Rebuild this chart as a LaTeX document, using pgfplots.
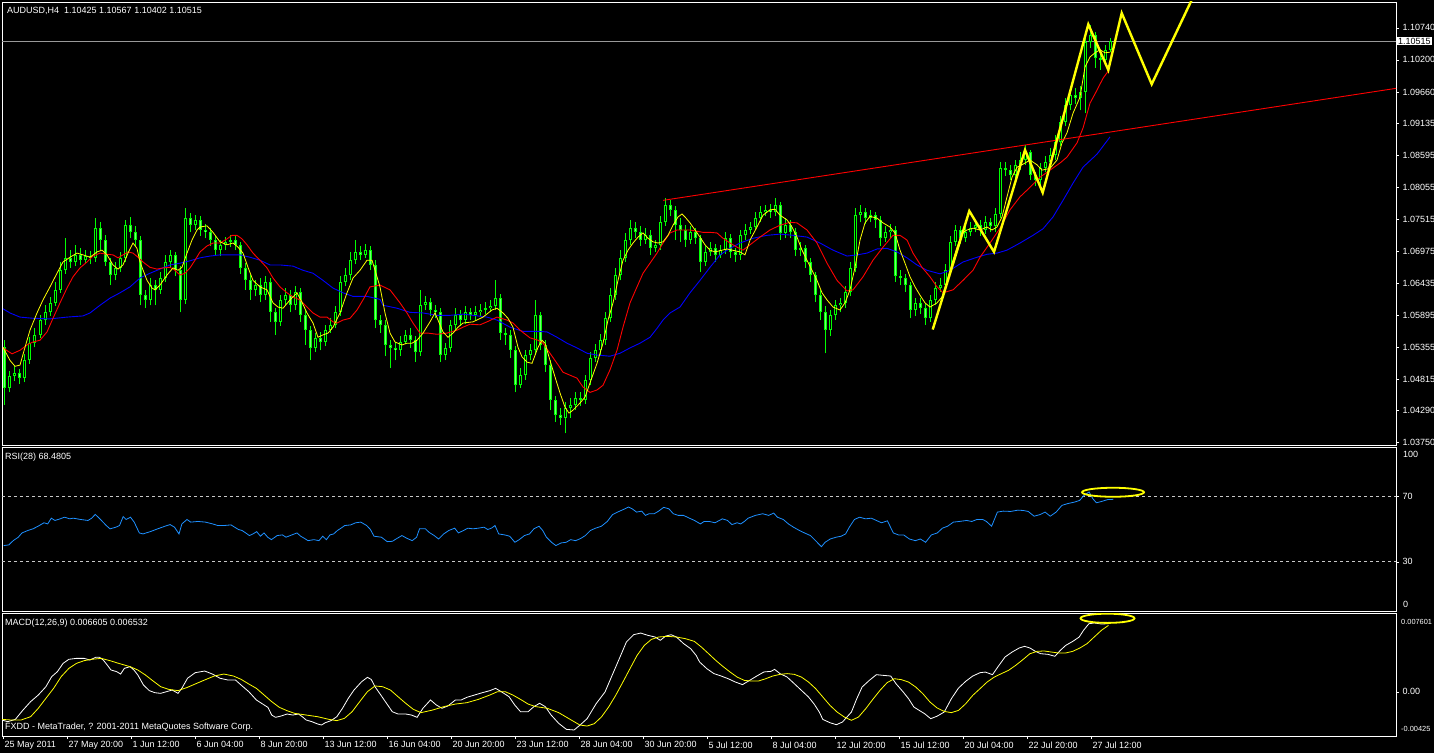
\documentclass[border=0pt]{standalone}
\usepackage{pgfplots}
\pgfplotsset{compat=1.18}
\usepackage{pgfplotstable}
\usepackage{fontspec}
\setmainfont{Liberation Sans}

\definecolor{mtgreen}{RGB}{0,255,0}
\definecolor{mtyellow}{RGB}{255,255,0}
\definecolor{mtred}{RGB}{255,0,0}
\definecolor{mtblue}{RGB}{0,0,255}
\definecolor{rsiblue}{RGB}{30,144,255}
\definecolor{levelgray}{RGB}{200,200,200}

% AUDUSD H4 candles: x (screen position), open, high, low, close
\pgfplotstableread{
x o h l c
5 1.0535 1.0547 1.0438 1.0466
10 1.0466 1.0495 1.0459 1.0486
15 1.0486 1.0503 1.0478 1.0492
20 1.0492 1.0498 1.0473 1.0483
25 1.0483 1.0524 1.0476 1.0513
30 1.0513 1.0552 1.0507 1.0542
35 1.0542 1.0567 1.0535 1.0556
40 1.0556 1.0589 1.0551 1.0581
45 1.0581 1.0606 1.0573 1.0594
50 1.0594 1.0620 1.0588 1.0610
55 1.0610 1.0645 1.0605 1.0632
60 1.0632 1.0679 1.0627 1.0665
65 1.0665 1.0719 1.0659 1.0686
70 1.0686 1.0699 1.0669 1.0679
75 1.0679 1.0708 1.0672 1.0691
80 1.0691 1.0702 1.0674 1.0682
85 1.0682 1.0699 1.0677 1.0689
90 1.0689 1.0697 1.0675 1.0686
95 1.0686 1.0753 1.0679 1.0736
100 1.0736 1.0746 1.0699 1.0716
105 1.0716 1.0724 1.0672 1.0679
110 1.0679 1.0686 1.0640 1.0657
115 1.0657 1.0679 1.0648 1.0669
120 1.0669 1.0696 1.0662 1.0686
125 1.0686 1.0750 1.0679 1.0741
130 1.0741 1.0755 1.0719 1.0729
135 1.0729 1.0740 1.0706 1.0716
140 1.0716 1.0723 1.0606 1.0623
145 1.0623 1.0632 1.0601 1.0615
150 1.0615 1.0652 1.0606 1.0640
155 1.0640 1.0648 1.0606 1.0632
160 1.0632 1.0662 1.0625 1.0652
165 1.0652 1.0691 1.0645 1.0679
170 1.0679 1.0699 1.0669 1.0691
175 1.0691 1.0696 1.0655 1.0665
180 1.0665 1.0672 1.0594 1.0615
185 1.0615 1.0770 1.0608 1.0753
190 1.0753 1.0762 1.0729 1.0741
195 1.0741 1.0758 1.0733 1.0750
200 1.0750 1.0756 1.0723 1.0733
205 1.0733 1.0743 1.0719 1.0729
210 1.0729 1.0736 1.0706 1.0716
215 1.0716 1.0723 1.0691 1.0699
220 1.0699 1.0716 1.0689 1.0708
225 1.0708 1.0721 1.0699 1.0713
230 1.0713 1.0724 1.0704 1.0716
235 1.0716 1.0723 1.0699 1.0708
240 1.0708 1.0713 1.0659 1.0669
245 1.0669 1.0677 1.0632 1.0648
250 1.0648 1.0657 1.0615 1.0632
255 1.0632 1.0648 1.0621 1.0640
260 1.0640 1.0652 1.0611 1.0623
265 1.0623 1.0655 1.0615 1.0645
270 1.0645 1.0652 1.0578 1.0594
275 1.0594 1.0601 1.0556 1.0578
280 1.0578 1.0623 1.0571 1.0615
285 1.0615 1.0635 1.0606 1.0623
290 1.0623 1.0632 1.0594 1.0606
295 1.0606 1.0638 1.0598 1.0628
300 1.0628 1.0635 1.0578 1.0589
305 1.0589 1.0598 1.0539 1.0564
310 1.0564 1.0571 1.0513 1.0534
315 1.0534 1.0559 1.0527 1.0551
320 1.0551 1.0561 1.0530 1.0544
325 1.0544 1.0573 1.0537 1.0564
330 1.0564 1.0584 1.0559 1.0573
335 1.0573 1.0605 1.0567 1.0594
340 1.0594 1.0655 1.0588 1.0645
345 1.0645 1.0669 1.0638 1.0657
350 1.0657 1.0696 1.0648 1.0682
355 1.0682 1.0716 1.0675 1.0696
360 1.0696 1.0706 1.0682 1.0691
365 1.0691 1.0709 1.0686 1.0699
370 1.0699 1.0706 1.0665 1.0674
375 1.0674 1.0682 1.0567 1.0581
380 1.0581 1.0589 1.0559 1.0573
385 1.0573 1.0581 1.0520 1.0539
390 1.0539 1.0547 1.0500 1.0534
395 1.0534 1.0544 1.0513 1.0530
400 1.0530 1.0554 1.0520 1.0544
405 1.0544 1.0564 1.0540 1.0556
410 1.0556 1.0567 1.0534 1.0547
415 1.0547 1.0554 1.0510 1.0527
420 1.0527 1.0632 1.0520 1.0606
425 1.0606 1.0621 1.0598 1.0611
430 1.0611 1.0618 1.0588 1.0598
435 1.0598 1.0606 1.0584 1.0594
440 1.0594 1.0601 1.0510 1.0522
445 1.0522 1.0542 1.0513 1.0534
450 1.0534 1.0581 1.0527 1.0573
455 1.0573 1.0601 1.0564 1.0589
460 1.0589 1.0598 1.0571 1.0581
465 1.0581 1.0605 1.0574 1.0594
470 1.0594 1.0601 1.0581 1.0589
475 1.0589 1.0605 1.0581 1.0594
480 1.0594 1.0608 1.0588 1.0598
485 1.0598 1.0611 1.0591 1.0601
490 1.0601 1.0615 1.0594 1.0605
495 1.0605 1.0648 1.0598 1.0618
500 1.0618 1.0625 1.0547 1.0559
505 1.0559 1.0567 1.0539 1.0556
510 1.0556 1.0564 1.0517 1.0530
515 1.0530 1.0537 1.0459 1.0471
520 1.0471 1.0500 1.0466 1.0488
525 1.0488 1.0530 1.0480 1.0522
530 1.0522 1.0540 1.0513 1.0530
535 1.0530 1.0615 1.0522 1.0589
540 1.0589 1.0594 1.0530 1.0539
545 1.0539 1.0547 1.0493 1.0505
550 1.0505 1.0513 1.0429 1.0446
555 1.0446 1.0453 1.0409 1.0421
560 1.0421 1.0432 1.0404 1.0416
565 1.0416 1.0443 1.0390 1.0432
570 1.0432 1.0449 1.0416 1.0438
575 1.0438 1.0459 1.0429 1.0449
580 1.0449 1.0459 1.0436 1.0446
585 1.0446 1.0488 1.0439 1.0480
590 1.0480 1.0527 1.0471 1.0517
595 1.0517 1.0540 1.0510 1.0530
600 1.0530 1.0557 1.0522 1.0547
605 1.0547 1.0594 1.0539 1.0584
610 1.0584 1.0635 1.0578 1.0623
615 1.0623 1.0669 1.0615 1.0657
620 1.0657 1.0699 1.0648 1.0686
625 1.0686 1.0728 1.0679 1.0716
630 1.0716 1.0750 1.0708 1.0736
635 1.0736 1.0746 1.0719 1.0729
640 1.0729 1.0740 1.0706 1.0716
645 1.0716 1.0736 1.0709 1.0724
650 1.0724 1.0733 1.0691 1.0702
655 1.0702 1.0716 1.0696 1.0708
660 1.0708 1.0756 1.0699 1.0746
665 1.0746 1.0787 1.0740 1.0775
670 1.0775 1.0783 1.0756 1.0767
675 1.0767 1.0773 1.0716 1.0741
680 1.0741 1.0753 1.0713 1.0733
685 1.0733 1.0741 1.0704 1.0716
690 1.0716 1.0740 1.0709 1.0729
695 1.0729 1.0736 1.0709 1.0719
700 1.0719 1.0724 1.0662 1.0679
705 1.0679 1.0706 1.0672 1.0696
710 1.0696 1.0713 1.0689 1.0702
715 1.0702 1.0709 1.0679 1.0691
720 1.0691 1.0708 1.0686 1.0699
725 1.0699 1.0729 1.0692 1.0719
730 1.0719 1.0726 1.0686 1.0696
735 1.0696 1.0702 1.0679 1.0691
740 1.0691 1.0733 1.0682 1.0724
745 1.0724 1.0743 1.0716 1.0733
750 1.0733 1.0746 1.0726 1.0738
755 1.0738 1.0763 1.0733 1.0753
760 1.0753 1.0773 1.0746 1.0763
765 1.0763 1.0775 1.0756 1.0767
770 1.0767 1.0777 1.0753 1.0763
775 1.0763 1.0787 1.0756 1.0775
780 1.0775 1.0780 1.0716 1.0728
785 1.0728 1.0753 1.0719 1.0741
790 1.0741 1.0750 1.0719 1.0729
795 1.0729 1.0736 1.0689 1.0699
800 1.0699 1.0713 1.0689 1.0702
805 1.0702 1.0708 1.0669 1.0679
810 1.0679 1.0686 1.0645 1.0657
815 1.0657 1.0662 1.0611 1.0623
820 1.0623 1.0632 1.0581 1.0594
825 1.0594 1.0605 1.0525 1.0564
830 1.0564 1.0598 1.0554 1.0589
835 1.0589 1.0615 1.0581 1.0606
840 1.0606 1.0618 1.0594 1.0610
845 1.0610 1.0638 1.0601 1.0628
850 1.0628 1.0679 1.0621 1.0669
855 1.0669 1.0770 1.0662 1.0758
860 1.0758 1.0775 1.0746 1.0763
865 1.0763 1.0770 1.0743 1.0753
870 1.0753 1.0767 1.0746 1.0758
875 1.0758 1.0763 1.0736 1.0750
880 1.0750 1.0756 1.0706 1.0719
885 1.0719 1.0740 1.0713 1.0729
890 1.0729 1.0743 1.0719 1.0733
895 1.0733 1.0740 1.0645 1.0655
900 1.0655 1.0665 1.0640 1.0652
905 1.0652 1.0659 1.0628 1.0640
910 1.0640 1.0645 1.0584 1.0598
915 1.0598 1.0618 1.0588 1.0610
920 1.0610 1.0618 1.0591 1.0601
925 1.0601 1.0608 1.0573 1.0584
930 1.0584 1.0623 1.0578 1.0615
935 1.0615 1.0645 1.0606 1.0635
940 1.0635 1.0652 1.0628 1.0640
945 1.0640 1.0675 1.0632 1.0665
950 1.0665 1.0723 1.0659 1.0713
955 1.0713 1.0741 1.0706 1.0733
960 1.0733 1.0740 1.0709 1.0719
965 1.0719 1.0740 1.0713 1.0729
970 1.0729 1.0746 1.0723 1.0736
975 1.0736 1.0750 1.0729 1.0741
980 1.0741 1.0750 1.0723 1.0733
985 1.0733 1.0756 1.0726 1.0746
990 1.0746 1.0753 1.0729 1.0740
995 1.0740 1.0770 1.0729 1.0760
1000 1.0760 1.0848 1.0753 1.0837
1005 1.0837 1.0848 1.0824 1.0834
1010 1.0834 1.0843 1.0817 1.0826
1015 1.0826 1.0851 1.0817 1.0843
1020 1.0843 1.0864 1.0834 1.0851
1025 1.0851 1.0876 1.0843 1.0864
1030 1.0864 1.0868 1.0817 1.0826
1035 1.0826 1.0831 1.0807 1.0817
1040 1.0817 1.0846 1.0800 1.0837
1045 1.0837 1.0858 1.0831 1.0848
1050 1.0848 1.0871 1.0837 1.0859
1055 1.0859 1.0893 1.0851 1.0881
1060 1.0881 1.0925 1.0875 1.0915
1065 1.0915 1.0956 1.0908 1.0944
1070 1.0944 1.0973 1.0935 1.0961
1075 1.0961 1.0973 1.0945 1.0956
1080 1.0956 1.0976 1.0935 1.0966
1085 1.0966 1.1060 1.0930 1.1050
1090 1.1050 1.1079 1.1040 1.1062
1095 1.1062 1.1067 1.1006 1.1023
1100 1.1023 1.1033 1.1003 1.1020
1105 1.1020 1.1045 1.1013 1.1037
1110 1.1037 1.1057 1.1033 1.1052
}\candles

\pgfplotsset{
  mtpanel/.style={
    scale only axis, width=1394pt, anchor=south west,
    xmin=2, xmax=1396, xtick=\empty,
    scaled y ticks=false, scaled x ticks=false,
    axis line style={white, line width=0.8pt},
    tick style={white, line width=0.6pt},
    tick align=outside, major tick length=3pt,
    ytick pos=right, yticklabel pos=right,
    ticklabel style={font=\fontsize{9}{10}\selectfont, text=white},
  },
}

\begin{document}
\begin{tikzpicture}
\fill[black] (0,0) rectangle (1434pt,753pt);

% ---- price panel
\begin{axis}[mtpanel, at={(2pt,308pt)}, height=443pt,
    ymin=1.03702, ymax=1.11177,
    ytick={1.0375,1.0429,1.04815,1.05355,1.05895,1.06435,1.06975,1.07515,1.08055,1.08595,1.09135,1.0966,1.102,1.1074},
    yticklabels={1.03750,1.04290,1.04815,1.05355,1.05895,1.06435,1.06975,1.07515,1.08055,1.08595,1.09135,1.09660,1.10200,1.10740}]
  \addplot[gray!80, line width=0.8pt] coordinates {(2,1.10515) (1396,1.10515)};
  % wicks
  \addplot[mtgreen, line width=1pt, -, quiver={u=0, v=\thisrow{h}-\thisrow{l}}] table[x=x, y=l] {\candles};
  % bodies
  \addplot[mtgreen, line width=3pt, -, quiver={u=0, v=\thisrow{c}-\thisrow{o}}] table[x=x, y=o] {\candles};
  \addplot[black, line width=1pt, -, quiver={u=0, v={max(\thisrow{c}-\thisrow{o}-0.0003,0)}}] table[x=x, y expr=\thisrow{o}+0.00015] {\candles};
  \addplot[white!45!mtgreen, line width=1pt, -, quiver={u=0, v={min(\thisrow{c}-\thisrow{o}+0.0003,0)}}] table[x=x, y expr=\thisrow{o}-0.00015] {\candles};
  % slow MA
  \addplot[mtblue, line width=0.9pt] coordinates {(3,1.0600) (10,1.0593) (20,1.0586) (33,1.0584) (50,1.0583) (67,1.0586) (83,1.0588) (90,1.0593) (100,1.0606) (110,1.0618) (120,1.0627) (130,1.0637) (140,1.0652) (150,1.0660) (160,1.0667) (170,1.0674) (180,1.0677) (190,1.0681) (200,1.0686) (210,1.0689) (220,1.0691) (240,1.0691) (250,1.0687) (260,1.0682) (270,1.0674) (280,1.0674) (293,1.0672) (303,1.0665) (313,1.0660) (323,1.0648) (333,1.0635) (343,1.0627) (353,1.0621) (367,1.0621) (380,1.0616) (383,1.0606) (397,1.0601) (410,1.0594) (423,1.0593) (437,1.0589) (450,1.0589) (463,1.0591) (473,1.0589) (487,1.0586) (497,1.0581) (510,1.0569) (523,1.0562) (537,1.0562) (547,1.0561) (557,1.0552) (567,1.0542) (577,1.0534) (587,1.0525) (597,1.0522) (610,1.0520) (620,1.0525) (630,1.0534) (640,1.0542) (650,1.0552) (657,1.0567) (663,1.0581) (670,1.0593) (680,1.0603) (690,1.0627) (700,1.0648) (710,1.0670) (720,1.0691) (730,1.0702) (740,1.0711) (753,1.0719) (767,1.0724) (780,1.0726) (793,1.0724) (807,1.0721) (820,1.0711) (833,1.0699) (847,1.0689) (857,1.0691) (867,1.0694) (877,1.0701) (887,1.0702) (897,1.0696) (907,1.0686) (917,1.0674) (927,1.0665) (940,1.0659) (950,1.0665) (963,1.0679) (977,1.0687) (987,1.0692) (997,1.0694) (1007,1.0699) (1020,1.0711) (1033,1.0724) (1043,1.0735) (1053,1.0755) (1063,1.0783) (1073,1.0812) (1083,1.0839) (1097,1.0861) (1110,1.0890)};
  % medium MA
  \addplot[mtred, line width=0.9pt] coordinates {(3,1.0534) (12,1.0524) (20,1.0530) (27,1.0539) (33,1.0544) (40,1.0547) (47,1.0561) (53,1.0584) (60,1.0610) (67,1.0635) (73,1.0654) (80,1.0669) (87,1.0679) (93,1.0689) (100,1.0694) (107,1.0692) (113,1.0691) (118,1.0686) (123,1.0691) (128,1.0696) (133,1.0694) (138,1.0687) (143,1.0679) (150,1.0670) (157,1.0667) (163,1.0669) (170,1.0670) (175,1.0665) (180,1.0657) (185,1.0660) (190,1.0669) (195,1.0682) (200,1.0696) (207,1.0706) (213,1.0711) (220,1.0711) (227,1.0718) (232,1.0724) (237,1.0724) (242,1.0718) (247,1.0708) (253,1.0694) (260,1.0682) (267,1.0669) (273,1.0652) (280,1.0637) (287,1.0627) (293,1.0620) (300,1.0615) (307,1.0603) (313,1.0593) (320,1.0586) (327,1.0586) (333,1.0578) (337,1.0576) (343,1.0581) (350,1.0584) (357,1.0598) (363,1.0615) (370,1.0637) (380,1.0640) (390,1.0632) (400,1.0610) (407,1.0593) (413,1.0576) (420,1.0559) (428,1.0559) (437,1.0557) (447,1.0559) (457,1.0564) (463,1.0569) (470,1.0574) (480,1.0573) (487,1.0578) (497,1.0586) (507,1.0581) (513,1.0576) (520,1.0564) (530,1.0551) (538,1.0547) (543,1.0542) (550,1.0525) (557,1.0508) (563,1.0493) (570,1.0488) (577,1.0483) (583,1.0468) (590,1.0459) (597,1.0463) (603,1.0471) (610,1.0497) (617,1.0530) (623,1.0569) (630,1.0610) (637,1.0637) (643,1.0660) (650,1.0677) (657,1.0694) (663,1.0711) (670,1.0728) (677,1.0733) (690,1.0733) (703,1.0729) (710,1.0729) (717,1.0728) (723,1.0719) (730,1.0711) (737,1.0704) (743,1.0699) (750,1.0708) (760,1.0721) (770,1.0733) (780,1.0741) (790,1.0746) (797,1.0745) (807,1.0733) (817,1.0711) (827,1.0677) (837,1.0648) (847,1.0630) (853,1.0632) (863,1.0654) (873,1.0682) (883,1.0704) (893,1.0724) (900,1.0724) (907,1.0716) (913,1.0694) (922,1.0670) (930,1.0654) (937,1.0637) (943,1.0627) (953,1.0632) (963,1.0648) (973,1.0665) (980,1.0687) (990,1.0711) (1000,1.0736) (1010,1.0767) (1020,1.0789) (1030,1.0805) (1040,1.0822) (1050,1.0834) (1060,1.0846) (1067,1.0856) (1077,1.0880) (1083,1.0905) (1090,1.0947) (1097,1.0969) (1103,1.0989) (1109,1.1003)};
  % fast MA
  \addplot[mtyellow, line width=0.8pt] coordinates {(3,1.0535) (10,1.0513) (15,1.0503) (20,1.0505) (25,1.0535) (30,1.0564) (37,1.0593) (43,1.0615) (50,1.0637) (57,1.0660) (63,1.0679) (70,1.0687) (77,1.0694) (83,1.0691) (90,1.0687) (97,1.0696) (102,1.0699) (107,1.0691) (113,1.0674) (118,1.0667) (123,1.0674) (128,1.0694) (133,1.0711) (137,1.0702) (140,1.0679) (147,1.0648) (152,1.0635) (155,1.0632) (160,1.0640) (167,1.0657) (173,1.0669) (178,1.0665) (182,1.0670) (187,1.0694) (192,1.0716) (197,1.0733) (200,1.0738) (207,1.0740) (213,1.0729) (220,1.0713) (227,1.0708) (233,1.0711) (238,1.0704) (243,1.0694) (248,1.0670) (253,1.0648) (260,1.0637) (267,1.0632) (273,1.0610) (278,1.0603) (283,1.0601) (290,1.0615) (297,1.0627) (302,1.0611) (307,1.0593) (313,1.0576) (318,1.0552) (323,1.0556) (328,1.0559) (333,1.0569) (340,1.0593) (347,1.0627) (353,1.0652) (360,1.0665) (367,1.0682) (372,1.0682) (377,1.0654) (380,1.0637) (385,1.0593) (390,1.0559) (395,1.0544) (402,1.0539) (407,1.0542) (412,1.0542) (417,1.0547) (423,1.0559) (430,1.0578) (435,1.0593) (438,1.0581) (443,1.0561) (448,1.0552) (453,1.0559) (458,1.0569) (463,1.0576) (473,1.0578) (483,1.0586) (492,1.0598) (497,1.0601) (503,1.0593) (508,1.0584) (513,1.0569) (518,1.0535) (522,1.0519) (527,1.0510) (532,1.0508) (538,1.0535) (542,1.0547) (545,1.0542) (550,1.0513) (555,1.0485) (560,1.0458) (565,1.0434) (569,1.0424) (573,1.0429) (580,1.0441) (585,1.0451) (590,1.0475) (597,1.0508) (603,1.0542) (608,1.0581) (613,1.0610) (618,1.0648) (623,1.0682) (628,1.0699) (633,1.0711) (638,1.0721) (643,1.0728) (648,1.0719) (653,1.0713) (658,1.0711) (663,1.0713) (668,1.0724) (673,1.0741) (678,1.0755) (682,1.0760) (685,1.0755) (690,1.0745) (695,1.0733) (700,1.0721) (705,1.0708) (710,1.0699) (715,1.0696) (727,1.0701) (740,1.0696) (745,1.0691) (750,1.0716) (757,1.0738) (763,1.0758) (770,1.0767) (775,1.0768) (780,1.0758) (787,1.0750) (792,1.0738) (797,1.0721) (802,1.0699) (807,1.0682) (812,1.0665) (817,1.0648) (822,1.0627) (827,1.0615) (833,1.0603) (840,1.0598) (845,1.0610) (850,1.0632) (855,1.0670) (860,1.0716) (865,1.0745) (870,1.0756) (877,1.0753) (883,1.0745) (890,1.0738) (895,1.0728) (900,1.0699) (905,1.0677) (910,1.0654) (915,1.0637) (920,1.0623) (925,1.0610) (930,1.0603) (937,1.0610) (942,1.0620) (947,1.0648) (952,1.0677) (957,1.0704) (962,1.0728) (967,1.0733) (973,1.0736) (980,1.0733) (987,1.0738) (992,1.0733) (997,1.0738) (1002,1.0755) (1007,1.0789) (1012,1.0822) (1017,1.0839) (1022,1.0843) (1030,1.0851) (1037,1.0843) (1042,1.0834) (1050,1.0837) (1057,1.0851) (1062,1.0880) (1067,1.0897) (1073,1.0930) (1080,1.0957) (1085,1.1008) (1090,1.1025) (1095,1.1032) (1100,1.1037) (1105,1.1032) (1110,1.1033)};
  % trend line
  \addplot[mtred, line width=0.9pt] coordinates {(663,1.0783) (1396,1.0972)};
  % zigzag projection
  \addplot[mtyellow, line width=2.4pt] coordinates {(932.7,1.0565) (969.3,1.0765) (994,1.0696) (1025,1.0868) (1042.7,1.0796) (1088.3,1.1080) (1108.3,1.1003) (1121.7,1.1099) (1151.7,1.0979) (1201.2,1.1155)};
\end{axis}

% ---- RSI panel
\begin{axis}[mtpanel, at={(2pt,142pt)}, height=164pt, ymin=0, ymax=100,
    ytick={30,70}, yticklabels={30,70}]
  \addplot[levelgray, line width=0.7pt, dash pattern=on 3pt off 3pt] coordinates {(2,70) (1396,70)};
  \addplot[levelgray, line width=0.7pt, dash pattern=on 3pt off 3pt] coordinates {(2,30) (1396,30)};
  \addplot[rsiblue, line width=0.8pt] coordinates {(3.7,39.9) (8.8,40.3) (13.2,42.9) (18.3,45.0) (22,47.6) (27.9,49.1) (33,50.1) (38.1,51.7) (44,53.8) (47.7,53.1) (51.3,56.6) (55,55.2) (60.1,56.2) (64.5,57.2) (69.7,56.2) (73.3,56.6) (80.7,55.8) (88,55.2) (91.7,56.6) (95.3,58.9) (100.5,55.8) (106.3,52.1) (110,50.1) (115.9,51.1) (119.5,52.1) (123.2,57.6) (126.1,55.8) (130.5,57.2) (134.2,54.2) (139.3,47.6) (143,47.0) (150.3,48.4) (157.7,50.1) (165,51.7) (170.1,52.7) (174.5,51.1) (179,47.0) (181.9,53.1) (187,55.8) (190.7,54.2) (198,54.6) (205.4,54.2) (212.7,53.1) (217.8,52.1) (223.7,52.1) (231,52.5) (234.7,51.1) (238.4,49.7) (242,49.1) (245.7,47.6) (249.4,46.0) (253,47.0) (256.7,48.4) (260.4,45.6) (264,47.6) (267.7,45.0) (271.4,43.5) (277.2,46.0) (282.4,46.4) (286,45.0) (291.9,46.4) (297,47.6) (300.7,45.6) (304.4,44.3) (308,42.9) (313.9,43.5) (319,42.9) (322.7,45.6) (326.4,43.5) (330,46.4) (333.7,47.0) (337.4,49.1) (341,50.5) (344.7,52.1) (350.6,52.5) (355.7,53.8) (360.8,54.2) (366.7,52.1) (370.4,49.7) (374,45.6) (381.4,45.0) (387.2,42.3) (392.4,42.5) (396,43.9) (401.9,46.0) (407,44.3) (412.2,42.9) (416.6,45.0) (419.5,50.1) (425.4,50.1) (429,48.0) (434.2,46.0) (438.6,43.9) (443.7,47.0) (448.8,49.1) (454.7,50.5) (458.4,47.6) (463.5,49.1) (467.9,50.5) (473,50.1) (478.2,50.5) (484,51.1) (487.7,49.7) (491.4,50.5) (495,52.1) (498.7,47.0) (504.6,46.4) (509.7,45.6) (514.9,41.9) (519.2,43.5) (524.4,46.0) (529.5,47.0) (533.9,50.1) (539,51.7) (542.7,49.1) (546.4,45.0) (551.5,41.9) (555.9,39.9) (561,41.5) (566.2,41.9) (570.6,43.5) (575.7,42.9) (580.9,44.3) (585.3,46.0) (590.4,49.1) (595.5,50.5) (601.4,51.7) (607.3,54.6) (612.4,58.7) (617.5,60.3) (623.4,61.9) (628.5,63.4) (632.2,62.3) (636.6,60.3) (641.7,60.9) (645.4,58.3) (649,59.3) (654.2,59.3) (658.6,60.9) (663.7,63.2) (668.9,62.3) (673.3,59.3) (678.4,58.3) (683.5,58.3) (689.4,56.6) (694.5,55.2) (700.4,53.1) (704.1,54.6) (709.2,54.6) (715,53.8) (722.4,56.2) (727.5,55.2) (731.9,52.7) (737.1,53.8) (740.7,53.1) (744.4,54.6) (748.1,56.6) (755.4,58.3) (762.7,59.3) (768.6,58.3) (773.7,59.7) (777.4,57.2) (783.3,55.8) (788.4,53.1) (793.5,51.1) (799.4,49.1) (804.5,47.6) (810.4,46.0) (815.5,42.9) (821.4,39.2) (825.1,41.9) (830.2,43.9) (836.1,45.0) (841.2,45.6) (845.6,47.0) (849.3,51.1) (854.4,55.8) (859.6,57.2) (865.4,56.2) (871.3,56.6) (876.4,55.2) (881.5,53.8) (887.4,55.0) (893.3,47.6) (898.4,46.4) (903.6,46.4) (909.4,43.9) (915.3,42.9) (920.4,43.9) (925.6,41.9) (931.4,46.4) (937.3,47.6) (942.4,50.5) (947.6,51.7) (953.4,54.2) (959.3,54.6) (966.6,55.2) (971.8,54.6) (976.9,55.8) (982.8,55.8) (986.4,54.6) (991.6,51.7) (997.4,60.3) (1003.3,60.9) (1010.6,60.7) (1017.9,61.5) (1023.1,61.3) (1028.2,60.7) (1034.1,57.8) (1040,58.8) (1045.1,60.3) (1050.2,57.8) (1056.1,60.3) (1061.9,64.4) (1067.1,65.4) (1074.4,66.4) (1079.6,67.4) (1084,70.5) (1089.1,72.6) (1092.8,68.5) (1096.4,66.0) (1101.6,66.8) (1107.4,67.9) (1113.3,68.1)};
  \draw[mtyellow, line width=1.8pt] (axis cs:1113,72.4) ellipse [x radius=31pt, y radius=4.5pt];
\end{axis}

% ---- MACD panel
\begin{axis}[mtpanel, at={(2pt,17pt)}, height=123pt, ymin=-0.00425, ymax=0.007601,
    ytick={0}, yticklabels={0.00},
    xtick={3,67,131,195,259,323,387,451,515,579,643,707,771,835,899,963,1027,1091},
    xticklabels={25 May 2011,27 May 20:00,1 Jun 12:00,6 Jun 04:00,8 Jun 20:00,13 Jun 12:00,16 Jun 04:00,20 Jun 20:00,23 Jun 12:00,28 Jun 04:00,30 Jun 20:00,5 Jul 12:00,8 Jul 04:00,12 Jul 20:00,15 Jul 12:00,20 Jul 04:00,22 Jul 20:00,27 Jul 12:00},
    xtick pos=bottom, xticklabel style={anchor=north west, xshift=-2pt, yshift=1pt}]
  \addplot[white, line width=0.8pt] coordinates {(1.9,-2.71e-3) (7.7,-2.87e-3) (15.3,-2.65e-3) (23.0,-1.75e-3) (30.6,-0.94e-3) (38.3,-0.30e-3) (45.9,0.50e-3) (51.7,1.47e-3) (57.4,1.95e-3) (63.1,2.75e-3) (68.9,3.14e-3) (76.5,3.23e-3) (84.2,3.23e-3) (89.9,3.07e-3) (95.7,3.33e-3) (99.5,3.33e-3) (103.3,3.07e-3) (107.2,2.59e-3) (111.0,2.11e-3) (116.7,1.95e-3) (120.6,1.72e-3) (124.4,2.27e-3) (130.1,2.43e-3) (133.9,2.11e-3) (137.8,1.63e-3) (143.5,0.66e-3) (149.3,0.12e-3) (155.0,-0.08e-3) (160.7,-0.14e-3) (166.5,0.02e-3) (172.2,0.18e-3) (178.0,-0.14e-3) (181.8,0.34e-3) (187.5,1.31e-3) (195.2,1.85e-3) (204.7,2.01e-3) (212.4,1.72e-3) (220.1,1.31e-3) (227.7,1.15e-3) (235.4,1.15e-3) (241.1,0.66e-3) (248.8,0.02e-3) (256.4,-0.78e-3) (264.1,-1.26e-3) (267.9,-1.49e-3) (271.7,-2.23e-3) (275.5,-2.45e-3) (281.3,-2.32e-3) (287.0,-2.13e-3) (292.8,-2.23e-3) (298.5,-2.13e-3) (302.3,-2.39e-3) (306.2,-2.71e-3) (311.9,-2.87e-3) (317.6,-3.09e-3) (321.5,-3.19e-3) (325.3,-2.97e-3) (331.0,-2.77e-3) (336.8,-2.39e-3) (342.5,-1.58e-3) (348.3,-0.62e-3) (354.0,0.18e-3) (361.6,0.98e-3) (367.4,1.40e-3) (371.2,1.21e-3) (375.0,0.50e-3) (380.8,-0.30e-3) (386.5,-1.10e-3) (392.3,-1.91e-3) (398.0,-2.13e-3) (405.7,-2.13e-3) (411.4,-2.23e-3) (417.1,-2.45e-3) (422.9,-1.58e-3) (430.5,-0.78e-3) (436.3,-1.26e-3) (442.0,-1.58e-3) (447.8,-1.36e-3) (455.4,-0.78e-3) (461.2,-0.78e-3) (466.9,-0.52e-3) (474.6,-0.30e-3) (482.2,-0.08e-3) (489.9,0.12e-3) (495.6,0.34e-3) (501.3,0.02e-3) (509.0,-0.46e-3) (514.7,-1.26e-3) (520.5,-1.91e-3) (528.1,-1.91e-3) (533.9,-1.42e-3) (539.6,-1.10e-3) (545.3,-1.42e-3) (551.1,-2.23e-3) (558.7,-3.03e-3) (566.4,-3.61e-3) (574.1,-3.67e-3) (580,-3.2e-3) (587.1,-2.58e-3) (596.1,-1.14e-3) (605.0,-0.01e-3) (612.1,1.59e-3) (619.3,3.20e-3) (626.4,4.81e-3) (633.6,5.51e-3) (640.7,5.67e-3) (647.8,5.45e-3) (655.0,5.29e-3) (660.3,4.97e-3) (665.7,5.38e-3) (671.1,5.51e-3) (676.4,5.29e-3) (683.6,4.65e-3) (690.7,4.16e-3) (696.1,3.52e-3) (699.6,2.88e-3) (706.8,2.24e-3) (713.9,1.76e-3) (721.1,1.53e-3) (728.2,1.27e-3) (735.3,0.95e-3) (742.5,0.70e-3) (749.6,1.11e-3) (756.8,1.53e-3) (763.9,1.92e-3) (771.0,1.98e-3) (774.6,2.17e-3) (780.0,1.76e-3) (787.1,1.43e-3) (794.3,0.79e-3) (801.4,0.15e-3) (808.5,-0.49e-3) (813.9,-1.14e-3) (819.3,-1.94e-3) (822.8,-2.65e-3) (830.0,-2.97e-3) (836.4,-3.16e-3) (842.5,-2.90e-3) (851.4,-1.94e-3) (856.8,-0.65e-3) (862.1,0.47e-3) (869.3,1.11e-3) (876.4,1.66e-3) (883.5,1.59e-3) (890.7,1.53e-3) (896.0,0.79e-3) (903.2,-0.01e-3) (908.5,-0.65e-3) (913.9,-1.46e-3) (919.2,-1.78e-3) (924.6,-2.10e-3) (930.7,-2.58e-3) (937.1,-2.34e-3) (944.2,-1.94e-3) (951.4,-0.65e-3) (958.5,0.37e-3) (965.7,1.02e-3) (972.8,1.53e-3) (980.0,1.85e-3) (985.3,1.91e-3) (992.5,1.66e-3) (997.8,2.40e-3) (1005.0,3.36e-3) (1012.1,3.84e-3) (1019.2,4.23e-3) (1024.6,4.39e-3) (1029.9,4.23e-3) (1035.3,3.91e-3) (1040.7,3.68e-3) (1047.8,3.62e-3) (1054.9,3.43e-3) (1060.3,4.00e-3) (1065.7,4.48e-3) (1072.8,4.87e-3) (1079.2,5.29e-3) (1083.5,5.93e-3) (1088.9,6.57e-3) (1094.2,6.64e-3) (1101.4,6.54e-3) (1108.5,6.57e-3)};
  \addplot[mtyellow, line width=0.8pt] coordinates {(1.9,-2.65e-3) (11.5,-2.71e-3) (21.0,-2.71e-3) (30.6,-2.39e-3) (38.3,-1.58e-3) (45.9,-0.62e-3) (53.6,0.34e-3) (61.2,1.47e-3) (68.9,2.27e-3) (76.5,2.75e-3) (84.2,3.01e-3) (91.8,3.14e-3) (101.4,3.23e-3) (111.0,2.98e-3) (118.6,2.75e-3) (130.1,2.43e-3) (137.8,2.11e-3) (145.4,1.63e-3) (153.1,1.05e-3) (160.7,0.50e-3) (168.4,0.25e-3) (178.0,0.12e-3) (187.5,0.44e-3) (195.2,0.76e-3) (204.7,1.15e-3) (214.3,1.53e-3) (223.9,1.72e-3) (233.4,1.53e-3) (241.1,1.21e-3) (248.8,0.76e-3) (256.4,0.34e-3) (264.1,-0.30e-3) (271.7,-0.94e-3) (279.4,-1.49e-3) (287.0,-1.81e-3) (294.7,-2.07e-3) (306.2,-2.23e-3) (317.6,-2.39e-3) (329.1,-2.65e-3) (336.8,-2.77e-3) (344.4,-2.55e-3) (352.1,-1.91e-3) (359.7,-0.94e-3) (367.4,0.02e-3) (375.0,0.57e-3) (382.7,0.50e-3) (390.4,0.18e-3) (398.0,-0.46e-3) (405.7,-1.10e-3) (413.3,-1.68e-3) (421.0,-2.00e-3) (432.5,-1.75e-3) (443.9,-1.42e-3) (455.4,-1.17e-3) (466.9,-1.04e-3) (478.4,-0.72e-3) (489.9,-0.30e-3) (497.5,0.02e-3) (505.2,0.02e-3) (512.8,-0.30e-3) (520.5,-0.72e-3) (528.1,-1.17e-3) (535.8,-1.42e-3) (547.3,-1.58e-3) (558.7,-2.00e-3) (570.2,-2.65e-3) (579.8,-3.19e-3) (587.1,-3.29e-3) (594.3,-3.06e-3) (601.4,-2.42e-3) (608.6,-1.46e-3) (615.7,-0.33e-3) (622.9,0.95e-3) (630.0,2.24e-3) (637.1,3.52e-3) (644.3,4.48e-3) (651.4,5.06e-3) (658.6,5.29e-3) (667.5,5.35e-3) (676.4,5.29e-3) (685.3,5.13e-3) (694.3,4.87e-3) (701.4,4.32e-3) (708.6,3.68e-3) (715.7,3.04e-3) (722.8,2.46e-3) (730.0,1.92e-3) (737.1,1.43e-3) (744.3,1.11e-3) (751.4,1.05e-3) (758.6,1.05e-3) (765.7,1.27e-3) (772.8,1.53e-3) (780.0,1.69e-3) (787.1,1.76e-3) (794.3,1.69e-3) (801.4,1.43e-3) (808.5,0.95e-3) (815.7,0.31e-3) (822.8,-0.49e-3) (830.0,-1.30e-3) (837.1,-1.94e-3) (844.3,-2.42e-3) (851.4,-2.74e-3) (858.5,-2.42e-3) (865.7,-1.62e-3) (872.8,-0.72e-3) (880.0,0.15e-3) (887.1,0.89e-3) (894.3,1.27e-3) (901.4,1.18e-3) (908.5,0.95e-3) (915.7,0.47e-3) (922.8,-0.17e-3) (930.0,-0.98e-3) (937.1,-1.55e-3) (944.2,-1.88e-3) (951.4,-2.00e-3) (958.5,-1.78e-3) (965.7,-1.14e-3) (972.8,-0.33e-3) (980.0,0.31e-3) (987.1,0.95e-3) (994.3,1.43e-3) (1001.4,1.76e-3) (1008.6,2.08e-3) (1015.7,2.56e-3) (1022.8,3.10e-3) (1029.9,3.68e-3) (1037.1,3.91e-3) (1044.2,3.94e-3) (1051.4,3.84e-3) (1058.5,3.75e-3) (1065.7,3.75e-3) (1072.8,3.91e-3) (1079.9,4.23e-3) (1087.1,4.65e-3) (1094.2,5.29e-3) (1101.4,5.93e-3) (1108.5,6.41e-3)};
  \draw[mtyellow, line width=1.8pt] (axis cs:1107.5,0.00709) ellipse [x radius=27pt, y radius=4.6pt];
\end{axis}

% ---- texts
\begin{scope}[every node/.style={text=white, font=\fontsize{9}{10}\selectfont, inner sep=0pt, anchor=west}]
  \node at (7pt,742pt) {AUDUSD,H4\ \ 1.10425 1.10567 1.10402 1.10515};
  \node at (5pt,296pt) {RSI(28) 68.4805};
  \node at (5pt,130pt) {MACD(12,26,9) 0.006605 0.006532};
  \node at (5pt,26pt) {FXDD - MetaTrader, ? 2001-2011 MetaQuotes Software Corp.};
  \node at (1403pt,299pt) {100};
  \node at (1403pt,149pt) {0};
  \node[font=\fontsize{7.4}{9}\selectfont] at (1401pt,131pt) {0.007601};
  \node[font=\fontsize{7.4}{9}\selectfont] at (1401pt,24pt) {-0.00425};
  \node[fill=white, text=black, inner sep=1pt] at (1397pt,711.7pt) {1.10515};
\end{scope}

\pgfresetboundingbox
\useasboundingbox (0,0) rectangle (1434pt,753pt);
\end{tikzpicture}
\end{document}
